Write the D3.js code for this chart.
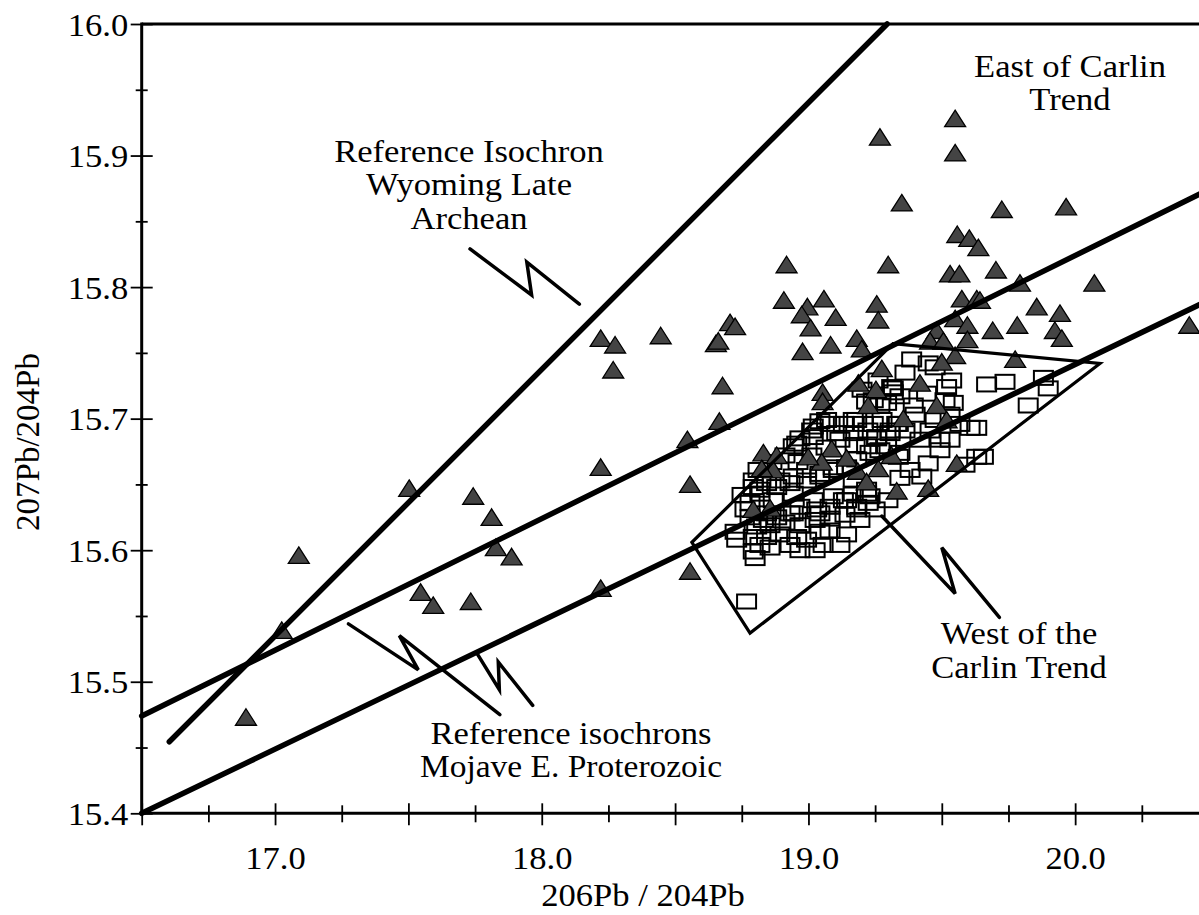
<!DOCTYPE html>
<html>
<head>
<meta charset="utf-8">
<script src="https://cdn.jsdelivr.net/npm/d3@7"></script>
<style>
body{margin:0;background:#fff;}
svg text{font-family:"Liberation Serif","Times New Roman",serif;fill:#000;}
</style>
</head>
<body>
<div id="chart"></div>
<script>
var xLabels=[17.0,18.0,19.0,20.0];
var xMajor=[16.5,17.0,17.5,18.0,18.5,19.0,19.5,20.0,20.5];
var xMinor=[16.75,17.25,17.75,18.25,18.75,19.25,19.75,20.25];
var yLabels=[15.4,15.5,15.6,15.7,15.8,15.9,16.0];
var yMinor=[15.45,15.55,15.65,15.75,15.85,15.95];

// east of Carlin trend (triangles)
var eastX=[16.891,17.025,17.089,17.503,17.743,17.812,17.828,17.887,17.546,17.593,
	17.734,18.221,18.221,18.221,18.275,18.446,18.268,18.546,18.556,18.556,
	18.666,18.678,18.653,18.662,18.706,18.725,18.918,18.908,19.058,18.996,
	18.975,19.102,19.008,18.978,19.083,19.181,19.200,19.256,19.262,19.275,
	19.299,19.268,19.350,19.550,19.550,19.725,19.966,19.558,19.603,19.637,
	19.531,19.566,19.703,19.793,20.072,19.575,19.631,19.643,19.856,19.943,
	19.550,19.596,19.691,19.783,19.924,19.950,19.481,19.456,19.506,19.596,
	19.550,19.500,19.775,20.428,19.418,19.481,19.518,19.356,19.312,19.556,
	19.449,19.331,19.053,19.053,19.187,19.253,19.224,18.831,18.881,19.087,
	19.143,18.868,19.050,19.185,19.262,19.218,18.793,18.856,18.999,18.825];
var eastY=[15.473,15.539,15.596,15.647,15.641,15.625,15.602,15.595,15.568,15.558,
	15.561,15.663,15.571,15.761,15.756,15.763,15.737,15.684,15.650,15.584,
	15.698,15.725,15.757,15.759,15.773,15.770,15.817,15.790,15.791,15.785,
	15.779,15.777,15.769,15.751,15.756,15.761,15.753,15.787,15.775,15.738,
	15.817,15.914,15.864,15.928,15.902,15.859,15.861,15.840,15.837,15.830,
	15.810,15.810,15.813,15.803,15.803,15.791,15.791,15.790,15.785,15.780,
	15.776,15.771,15.767,15.771,15.767,15.761,15.767,15.759,15.759,15.760,
	15.748,15.743,15.745,15.771,15.727,15.710,15.699,15.700,15.672,15.666,
	15.647,15.645,15.720,15.713,15.727,15.722,15.710,15.674,15.672,15.677,
	15.670,15.661,15.667,15.660,15.662,15.652,15.631,15.632,15.671,15.662];

// west of Carlin trend (squares)
var westX=[19.318,19.343,19.393,19.443,19.518,19.543,19.606,19.631,19.449,19.425,
	19.337,19.268,19.206,19.168,19.081,19.043,19.012,18.956,19.106,19.218,
	19.256,19.293,19.343,19.181,19.093,19.043,18.993,18.931,18.881,18.818,
	18.793,19.168,19.218,19.231,19.181,19.131,19.081,19.031,18.968,18.931,
	18.881,18.831,18.781,18.806,18.725,18.793,18.843,18.893,18.956,18.993,
	19.043,19.081,19.143,18.793,18.800,18.731,18.768,19.331,19.306,19.387,
	19.475,19.537,19.668,19.737,19.881,19.899,19.824,19.318,19.293,19.631,
	19.568,19.656,19.449,19.512,19.337,19.587,19.181,19.224,19.143,19.312,
	19.243,19.218,19.068,19.131,19.181,19.243,19.018,18.968,18.943,19.018,
	19.168,19.256,19.306,19.268,19.231,19.143,19.093,19.043,18.993,18.943,
	18.893,18.843,18.818,18.793,18.781,18.868,18.943,19.018,19.093,19.168,
	19.218,19.043,18.943,18.843,18.856,18.968,19.055,19.201,19.261,19.475,
	19.531,19.418,19.493,19.362,
	18.811,18.863,18.912,18.961,19.013,19.066,19.118,19.175,19.223,19.276,
	18.856,18.912,18.968,19.025,19.081,19.137,19.193,19.250,19.298,19.343,
	19.381,18.818,18.931,19.025,19.118,18.762,18.751,19.362,19.400,19.456,
	19.493,19.531];
var westY=[15.723,15.717,15.710,15.719,15.724,15.712,15.693,15.671,15.666,15.656,
	15.671,15.710,15.696,15.699,15.696,15.698,15.691,15.681,15.689,15.679,
	15.685,15.679,15.674,15.669,15.663,15.658,15.653,15.651,15.648,15.646,
	15.653,15.653,15.646,15.641,15.633,15.638,15.633,15.631,15.633,15.628,
	15.625,15.623,15.625,15.618,15.614,15.610,15.610,15.612,15.610,15.608,
	15.614,15.615,15.612,15.599,15.594,15.608,15.561,15.696,15.689,15.745,
	15.739,15.729,15.726,15.728,15.731,15.723,15.710,15.720,15.712,15.693,
	15.696,15.671,15.742,15.714,15.696,15.665,15.631,15.636,15.638,15.724,
	15.714,15.713,15.699,15.696,15.699,15.696,15.694,15.685,15.679,15.686,
	15.689,15.686,15.691,15.676,15.674,15.663,15.661,15.656,15.661,15.656,
	15.653,15.651,15.643,15.648,15.636,15.638,15.643,15.638,15.641,15.643,
	15.643,15.628,15.628,15.628,15.602,15.600,15.604,15.722,15.729,15.699,
	15.684,15.684,15.676,15.735,
	15.661,15.667,15.672,15.667,15.672,15.678,15.684,15.680,15.691,15.699,
	15.619,15.621,15.619,15.623,15.624,15.627,15.623,15.631,15.638,15.655,
	15.661,15.604,15.604,15.600,15.604,15.631,15.642,15.691,15.703,15.691,
	15.684,15.703];

// reference isochrons and field outline
var wyomingLine=[[16.6035,15.4544],[19.295,16.0]];
var mojaveUpper=[[16.5,15.474],[20.5,15.874]];
var mojaveLower=[[16.5,15.4],[20.5,15.79]];
var westField=[[18.563,15.606],[18.781,15.537],[20.093,15.742],[19.317,15.757]];

// zigzag leaders
var wyomingPointer=[[17.731,15.829],[17.962,15.794],[17.944,15.819],[18.141,15.787]];
var mojavePointer1=[[17.275,15.544],[17.537,15.509],[17.466,15.535],[17.843,15.475]];
var mojavePointer2=[[17.756,15.522],[17.841,15.494],[17.837,15.515],[17.966,15.482]];
var westPointer=[[19.275,15.626],[19.550,15.567],[19.500,15.602],[19.716,15.549]];

var W=1199,H=915;
var x=d3.scaleLinear().domain([16.5,20.5]).range([141.7,1208.5]);
var y=d3.scaleLinear().domain([15.4,16.0]).range([813.3,24]);

var svg=d3.select("#chart").append("svg").attr("width",W).attr("height",H);
var line=d3.line().x(function(d){return x(d[0]);}).y(function(d){return y(d[1]);});

var west=d3.zip(westX,westY);
var east=d3.zip(eastX,eastY);

svg.append("g").selectAll("rect").data(west).enter().append("rect")
	.attr("x",function(d){return x(d[0])-9.5;})
	.attr("y",function(d){return y(d[1])-7;})
	.attr("width",19).attr("height",14)
	.attr("fill","none").attr("stroke","#000").attr("stroke-width",2);

svg.append("g").selectAll("path").data(east).enter().append("path")
	.attr("d","M0,-8.5L10.5,8L-10.5,8Z")
	.attr("transform",function(d){return "translate("+x(d[0])+","+y(d[1])+")";})
	.attr("fill","#444").attr("stroke","#000").attr("stroke-width",1.3);

[wyomingLine,mojaveUpper,mojaveLower].forEach(function(l){
	svg.append("path").attr("d",line(l)).attr("fill","none")
		.attr("stroke","#000").attr("stroke-width",5.5).attr("stroke-linecap","round");
});

svg.append("path").attr("d",line(westField)+"Z").attr("fill","none")
	.attr("stroke","#000").attr("stroke-width",3.2).attr("stroke-linejoin","miter");

[wyomingPointer,mojavePointer1,mojavePointer2,westPointer].forEach(function(l){
	svg.append("path").attr("d",line(l)).attr("fill","none")
		.attr("stroke","#000").attr("stroke-width",3.5).attr("stroke-linecap","round");
});

// axes
var gx=svg.append("g").attr("transform","translate(0,"+y(15.4)+")");
gx.append("g").call(d3.axisBottom(x).tickValues(xMajor).tickSize(12).tickFormat(""))
	.call(function(g){g.select(".domain").remove();g.selectAll("line").attr("y1",-10).attr("stroke-width",1.8);});
gx.append("g").call(d3.axisBottom(x).tickValues(xMinor).tickSize(9).tickFormat(""))
	.call(function(g){g.select(".domain").remove();g.selectAll("line").attr("y1",-8).attr("stroke-width",1.8);});
gx.append("g").call(d3.axisBottom(x).tickValues(xLabels).tickSize(0).tickFormat(d3.format(".1f")))
	.call(function(g){
		g.select(".domain").remove();
		g.selectAll("text").attr("y",56).attr("dy",0).attr("font-size",32)
			.attr("font-family",null).attr("transform","scale(1.08,1)");
	});

var gy=svg.append("g").attr("transform","translate("+x(16.5)+",0)");
gy.append("g").call(d3.axisLeft(y).tickValues(yLabels).tickSize(11).tickFormat(""))
	.call(function(g){g.select(".domain").remove();g.selectAll("line").attr("x1",11).attr("stroke-width",1.8);});
gy.append("g").call(d3.axisLeft(y).tickValues(yMinor).tickSize(6).tickFormat(""))
	.call(function(g){g.select(".domain").remove();g.selectAll("line").attr("x1",6).attr("stroke-width",1.8);});
gy.append("g").call(d3.axisLeft(y).tickValues(yLabels).tickSize(0).tickFormat(d3.format(".1f")))
	.call(function(g){
		g.select(".domain").remove();
		g.selectAll("text").attr("x",-12.5).attr("dy","0.35em").attr("font-size",32)
			.attr("font-family",null).attr("transform","scale(1.08,1)");
	});

svg.append("line").attr("x1",x(16.5)).attr("x2",W).attr("y1",y(15.4)).attr("y2",y(15.4))
	.attr("stroke","#000").attr("stroke-width",3);
svg.append("line").attr("x1",x(16.5)).attr("x2",x(16.5)).attr("y1",y(15.4)+1.5).attr("y2",y(16.0)-1.5)
	.attr("stroke","#000").attr("stroke-width",3);
svg.append("line").attr("x1",x(16.5)).attr("x2",W).attr("y1",y(16.0)).attr("y2",y(16.0))
	.attr("stroke","#000").attr("stroke-width",3);

function label(px,py,str,size){
	svg.append("text").attr("transform","translate("+px+","+py+") scale(1.08,1)")
		.attr("text-anchor","middle").attr("font-size",size||32).text(str);
}

label(643,906,"206Pb / 204Pb");
svg.append("text").attr("transform","translate(39,442) rotate(-90)")
	.attr("text-anchor","middle").attr("font-size",33).text("207Pb/204Pb");

label(469,161.5,"Reference Isochron");
label(469,195,"Wyoming Late");
label(469,228.5,"Archean");
label(1070,77,"East of Carlin");
label(1070,110,"Trend");
label(1019,643.5,"West of the");
label(1019,677.5,"Carlin Trend");
label(571,743.5,"Reference isochrons");
label(571,777,"Mojave E. Proterozoic",31);
</script>
</body>
</html>
